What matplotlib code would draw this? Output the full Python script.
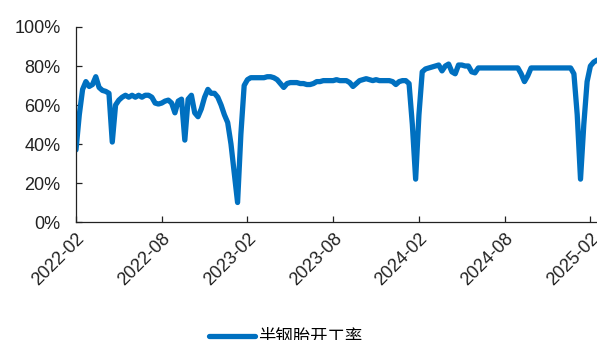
import matplotlib
matplotlib.use("Agg")
import matplotlib.pyplot as plt
from matplotlib.ticker import FuncFormatter
import pandas as pd

plt.rcParams['font.family'] = ['Liberation Sans', 'Noto Sans CJK SC', 'DejaVu Sans']

# weekly operating rate of semi-steel tyres, %
start = "2022-02-11"
rate = [
    37, 55, 68, 72, 69.5, 70.5, 74.5, 69, 67.5, 67,
    66, 41, 60, 62.5, 64, 65, 64, 65, 64, 65,
    64, 65, 65, 64, 61, 60.5, 61, 62, 62.5, 61,
    56, 62, 63, 42, 63, 65, 56, 54, 58, 64,
    68, 66, 66, 64, 60, 55, 51, 40, 25, 10,
    45, 70, 73, 74, 74, 74, 74, 74, 74.5, 74.5,
    74, 73, 71, 69, 71, 71.5, 71.5, 71.5, 71, 71,
    70.5, 70.5, 71, 72, 72, 72.5, 72.5, 72.5, 72.5, 73,
    72.5, 72.5, 72.5, 71.5, 69.5, 71, 72.5, 73, 73.5, 73,
    72.5, 73, 72.5, 72.5, 72.5, 72.5, 72, 70.5, 72, 72.5,
    72.5, 71, 50, 22, 55, 77, 78.5, 79, 79.5, 80,
    80.5, 77.5, 80, 81, 77, 76, 80.5, 80.5, 80, 80,
    77, 76.5, 79, 79, 79, 79, 79, 79, 79, 79,
    79, 79, 79, 79, 79, 76, 72, 75, 79, 79,
    79, 79, 79, 79, 79, 79, 79, 79, 79, 79,
    79, 76, 55, 22, 50, 72, 80, 82, 83,
]
tick_labels = ["2022-02", "2022-08", "2023-02", "2023-08", "2024-02", "2024-08", "2025-02"]
y_ticks = [0, 20, 40, 60, 80, 100]
series_name = "半钢胎开工率"

dates = pd.date_range(start, periods=len(rate), freq="7D")

fig = plt.figure(figsize=(5.97, 3.40), dpi=100)
ax = fig.add_axes([0.1273, 0.347, 0.8727, 0.5736])

line, = ax.plot(dates, rate, color="#0070C0", lw=3.8,
                solid_joinstyle="round", solid_capstyle="round")

ax.set_xlim(dates[0], dates[-1])
ax.set_ylim(0, 100)
ax.set_yticks(y_ticks)
ax.yaxis.set_major_formatter(FuncFormatter(lambda v, _: f"{v:.0f}%"))
ax.set_xticks(dates[::26])
ax.set_xticklabels(tick_labels, rotation=45, ha="right", rotation_mode="anchor")

for side in ("top", "right"):
    ax.spines[side].set_visible(False)
for side in ("left", "bottom"):
    ax.spines[side].set_color("#222222")
    ax.spines[side].set_linewidth(0.9)

ax.tick_params(axis="both", direction="in", length=4, width=0.9,
               color="#222222", labelsize=13, labelcolor="#222222")
ax.tick_params(axis="y", pad=11)
ax.tick_params(axis="x", pad=6)

# legend sits at the bottom edge, partly below the canvas
fig.legend([line], [series_name], loc="center", bbox_to_anchor=(0.478, 0.01),
           frameon=False, handlelength=2.7, handletextpad=0.15,
           prop={"family": ["Noto Sans CJK SC", "DejaVu Sans"], "size": 12.5})

fig.savefig("out.png", dpi=100)
